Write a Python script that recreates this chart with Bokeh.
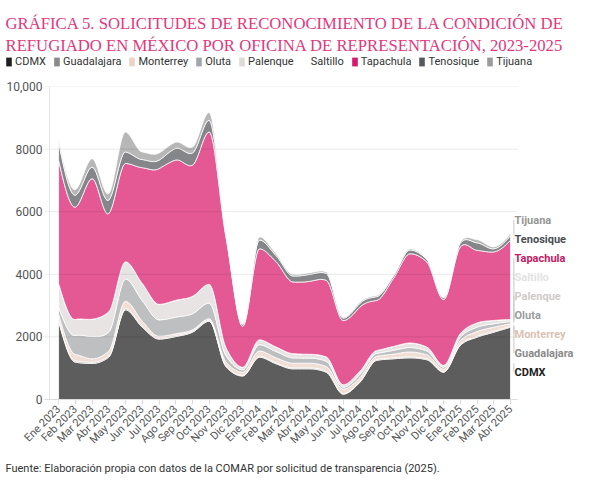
import math
import numpy as np
from bokeh.plotting import figure
from bokeh.layouts import column, row
from bokeh.models import (ColumnDataSource, FixedTicker, Legend, LegendItem,
                          Span, LabelSet, Range1d)
from bokeh.core.properties import value
from bokeh.embed import file_html
from bokeh.resources import INLINE

# ---------------- data ----------------
months = ["Ene 2023", "Feb 2023", "Mar 2023", "Abr 2023", "May 2023", "Jun 2023",
          "Jul 2023", "Ago 2023", "Sep 2023", "Oct 2023", "Nov 2023", "Dic 2023",
          "Ene 2024", "Feb 2024", "Mar 2024", "Abr 2024", "May 2024", "Jun 2024",
          "Jul 2024", "Ago 2024", "Sep 2024", "Oct 2024", "Nov 2024", "Dic 2024",
          "Ene 2025", "Feb 2025", "Mar 2025", "Abr 2025"]

cdmx = [2500, 1190, 1150, 1350, 2865, 2310, 1930, 2010, 2150, 2500, 1050, 750,
        1350, 1140, 980, 980, 870, 170, 550, 1250, 1300, 1330, 1270, 870,
        1730, 1990, 2150, 2310]
guadalajara = [40, 40, 40, 40, 40, 40, 30, 30, 30, 30, 30, 20,
               30, 30, 30, 30, 30, 20, 20, 30, 30, 30, 30, 20,
               30, 30, 30, 30]
monterrey = [200, 210, 110, 155, 235, 150, 60, 60, 45, 50, 120, 100,
             170, 160, 150, 150, 150, 140, 130, 100, 120, 160, 130, 80,
             120, 150, 130, 80]
oluta = [210, 605, 710, 605, 710, 660, 525, 530, 515, 500, 200, 80,
         200, 200, 170, 160, 170, 60, 100, 90, 120, 140, 120, 60,
         110, 140, 110, 70]
palenque = [750, 505, 550, 640, 540, 540, 490, 530, 550, 590, 250, 80,
            150, 140, 130, 120, 130, 80, 100, 90, 120, 140, 120, 60,
            110, 130, 100, 60]
saltillo = [10, 5, 5, 10, 10, 5, 5, 10, 5, 10, 5, 0,
            5, 5, 5, 5, 5, 0, 0, 5, 5, 5, 5, 0,
            5, 5, 5, 5]
tapachula = [3940, 3590, 4490, 3140, 3140, 3700, 4335, 4480, 4190, 4870, 3540, 1300,
             2910, 2720, 2290, 2330, 2450, 2050, 2050, 1600, 2170, 2850, 2720, 2100,
             2770, 2320, 2190, 2530]
tenosique = [580, 380, 370, 430, 370, 260, 270, 370, 390, 370, 80, 60,
             280, 200, 190, 220, 220, 80, 120, 120, 80, 120, 80, 60,
             120, 240, 100, 150]
tijuana = [100, 180, 270, 210, 640, 240, 230, 200, 190, 250, 30, 30,
           100, 60, 50, 50, 50, 30, 40, 40, 20, 40, 20, 20,
           40, 100, 60, 60]

names = ["CDMX", "Guadalajara", "Monterrey", "Oluta", "Palenque", "Saltillo",
         "Tapachula", "Tenosique", "Tijuana"]
series = [cdmx, guadalajara, monterrey, oluta, palenque, saltillo,
          tapachula, tenosique, tijuana]
y_ticks = [0, 2000, 4000, 6000, 8000, 10000]
y_tick_labels = ["0", "2000", "4000", "6000", "8000", "10,000"]

title_1 = "GRÁFICA 5. SOLICITUDES DE RECONOCIMIENTO DE LA CONDICIÓN DE"
title_2 = "REFUGIADO EN MÉXICO POR OFICINA DE REPRESENTACIÓN, 2023-2025"
source_note = "Fuente: Elaboración propia con datos de la COMAR por solicitud de transparencia (2025)."

# ---------------- style ----------------
colors = ["#1f1f1f", "#8a8a8a", "#ecd3c6", "#a3a6a9", "#dedad8", "#ffffff",
          "#d9176b", "#55585c", "#9b9b9b"]
label_colors = ["#222222", "#8a8a8a", "#dcc2b4", "#9a9da0", "#cfcbc9", "#e3e3e3",
                "#c8185f", "#4a4d50", "#959595"]
FILL_ALPHA = 0.72
FONT = "Roboto"
TITLE_FONT = "Liberation Serif"
TITLE_COLOR = "#e2387c"
W = 577


def monotone(ys, steps=12):
    """Monotone cubic (d3 curveMonotoneX-like) sampling, used only for drawing."""
    y = np.asarray(ys, dtype=float)
    n = len(y)
    d = np.diff(y)
    m = np.zeros(n)
    for k in range(1, n - 1):
        s0, s1 = d[k - 1], d[k]
        p_ = (s0 + s1) / 2.0
        m[k] = (np.sign(s0) + np.sign(s1)) * min(abs(s0), abs(s1), 0.5 * abs(p_))
    m[0] = (3 * d[0] - m[1]) / 2.0
    m[-1] = (3 * d[-1] - m[-2]) / 2.0
    xs_out, ys_out = [], []
    ts = np.linspace(0, 1, steps, endpoint=False)
    h00 = 2 * ts**3 - 3 * ts**2 + 1
    h10 = ts**3 - 2 * ts**2 + ts
    h01 = -2 * ts**3 + 3 * ts**2
    h11 = ts**3 - ts**2
    for k in range(n - 1):
        yy = h00 * y[k] + h10 * m[k] + h01 * y[k + 1] + h11 * m[k + 1]
        xs_out.extend(k + ts)
        ys_out.extend(yy)
    xs_out.append(n - 1)
    ys_out.append(y[-1])
    return np.array(xs_out), np.clip(np.array(ys_out), 0, None)


def bare(fig):
    fig.outline_line_color = None
    fig.xgrid.grid_line_color = None
    fig.ygrid.grid_line_color = None
    fig.background_fill_color = "white"
    fig.border_fill_color = "white"


# ---------------- header: title + legend ----------------
HH = 78
head = figure(width=W, height=HH, output_backend="svg", toolbar_location=None,
              x_range=Range1d(0, W), y_range=Range1d(HH, 0),
              x_axis_type=None, y_axis_type=None,
              min_border=0, min_border_left=0, min_border_right=0,
              min_border_top=0, min_border_bottom=0)
bare(head)
head.text(x=[5, 5], y=[23, 45], text=[title_1, title_2],
          text_font=value(TITLE_FONT), text_font_size="16.7px",
          text_color=TITLE_COLOR, text_baseline="alphabetic", text_align="left")

# legend swatch proxies (placed outside the visible header range)
items = []
for name, col in zip(names, colors):
    r = head.quad(left=[-20], right=[-10], top=[-20], bottom=[-10],
                  fill_color=col, line_color=None)
    items.append(LegendItem(label=name, renderers=[r]))
legend = Legend(items=items, orientation="horizontal", location=(5, 10),
                label_text_font=FONT, label_text_font_size="11px",
                label_text_color="#333333", glyph_width=7, glyph_height=11,
                label_standoff=3, spacing=7, padding=0, margin=0,
                label_height=11, border_line_color=None, background_fill_alpha=0)
head.add_layout(legend, "center")

# ---------------- main chart ----------------
n = len(months)
BL, BR, BT, BB = 44, 4, 8, 56
CH = 377
px_per_unit = 16.74
x_start = -0.84
x_end = x_start + (W - BL - BR) / px_per_unit
plot_end = (n - 1) + 0.42
p = figure(width=W, height=CH, output_backend="svg", toolbar_location=None,
           x_range=(x_start, x_end), y_range=(0, 10000),
           min_border_left=BL, min_border_right=BR, min_border_top=BT,
           min_border_bottom=BB)
bare(p)

base = None
for name, vals, col in zip(names, series, colors):
    sx, sy = monotone(vals)
    if base is None:
        base = np.zeros_like(sy)
    top = base + sy
    px = np.concatenate([sx, sx[::-1]])
    py = np.concatenate([top, base[::-1]])
    p.patch(px, py, fill_color=col, fill_alpha=FILL_ALPHA,
            line_color="white", line_width=0.8)
    base = top

# horizontal grid lines (on top, faint), limited to the plotting area
grid_y = y_ticks[1:]
p.segment(x0=[x_start] * len(grid_y), y0=grid_y, x1=[plot_end] * len(grid_y),
          y1=grid_y, line_color="black", line_alpha=0.085, line_width=1)
p.add_layout(Span(location=-0.54, dimension="height", line_color="#e6e6e6", line_width=1))

p.xaxis.ticker = FixedTicker(ticks=list(range(n)))
p.xaxis.bounds = (x_start, plot_end)
p.xaxis.major_label_overrides = {i: m for i, m in enumerate(months)}
p.xaxis.major_label_orientation = math.pi / 4
p.xaxis.major_label_text_font = FONT
p.xaxis.major_label_text_font_size = "11px"
p.xaxis.major_label_text_color = "#555555"
p.xaxis.axis_line_color = "#dcdcdc"
p.xaxis.major_tick_line_color = "#dcdcdc"
p.xaxis.major_tick_out = 5
p.xaxis.major_tick_in = 0
p.xaxis.minor_tick_line_color = None
p.xaxis.major_label_standoff = 3

p.yaxis.ticker = FixedTicker(ticks=y_ticks)
p.yaxis.major_label_overrides = {t: l for t, l in zip(y_ticks, y_tick_labels)}
p.yaxis.major_label_text_font = FONT
p.yaxis.major_label_text_font_size = "12px"
p.yaxis.major_label_text_color = "#555555"
p.yaxis.axis_line_color = None
p.yaxis.major_tick_line_color = None
p.yaxis.minor_tick_line_color = None
p.yaxis.major_tick_out = 0
p.yaxis.major_tick_in = 0
p.yaxis.minor_tick_out = 0
p.yaxis.major_label_standoff = 2

# end-of-series labels
cum = np.cumsum(np.array([s[-1] for s in series], dtype=float))
lows = np.concatenate([[0], cum[:-1]])
mids = (cum + lows) / 2.0
gap = 19 * 10000 / (CH - BT - BB)
label_shift = 230.0
center = mids.mean() + label_shift
kk = np.arange(len(names))
label_y = center + (kk - (len(names) - 1) / 2.0) * gap
lab_src = ColumnDataSource(dict(x=[n - 1] * len(names), y=label_y, text=names,
                                color=label_colors))
conn_x = n - 1 + 0.2
p.segment(x0=[conn_x] * len(names), y0=mids, x1=[conn_x] * len(names),
          y1=label_y, line_color="#c8c8c8", line_width=1)
p.add_layout(LabelSet(x="x", y="y", text="text", source=lab_src, x_offset=4,
                      text_align="left", text_baseline="middle",
                      text_font=value(FONT), text_font_size="11px",
                      text_font_style="bold", text_color="color"))

# ---------------- footer ----------------
FH = 23
foot = figure(width=W, height=FH, output_backend="svg", toolbar_location=None,
              x_range=Range1d(0, W), y_range=Range1d(FH, 0),
              x_axis_type=None, y_axis_type=None,
              min_border=0, min_border_left=0, min_border_right=0,
              min_border_top=0, min_border_bottom=0)
bare(foot)
foot.text(x=[5], y=[13], text=[source_note], text_font=value(FONT),
          text_font_size="11px", text_color="#333333", text_baseline="middle")

layout = column(row(head), row(p), row(foot), spacing=0)
open("out.html", "w").write(file_html(layout, INLINE))
